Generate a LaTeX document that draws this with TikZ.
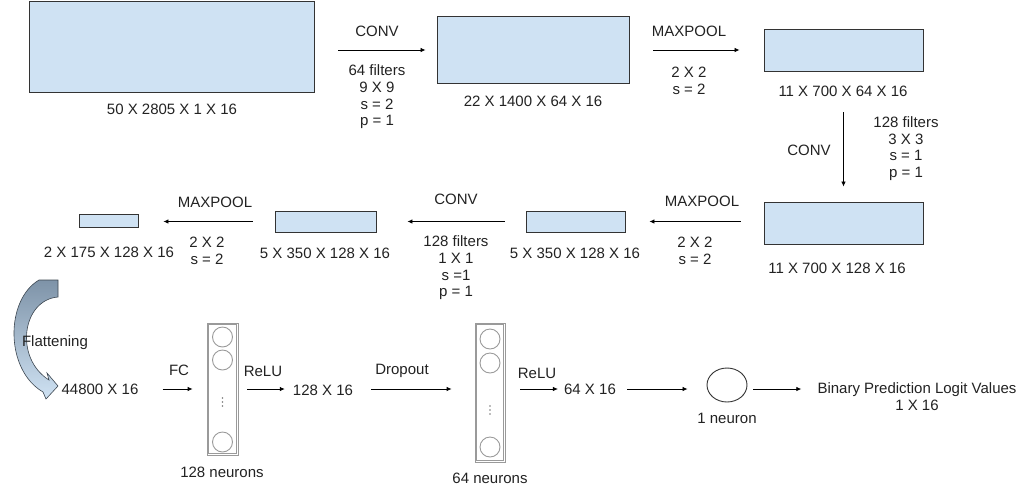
\documentclass[tikz,border=0pt]{standalone}
\usepackage{fontspec}
\setmainfont{Liberation Sans}
\usetikzlibrary{arrows.meta,shapes.geometric,calc}
\definecolor{boxfill}{HTML}{CFE2F3}
\definecolor{boxline}{HTML}{333333}
\definecolor{txt}{HTML}{222222}
\definecolor{neur}{HTML}{9A9A9A}
\definecolor{flattop}{HTML}{7E93A8}
\definecolor{flatline}{HTML}{3C4650}
\begin{document}
\begin{tikzpicture}[x=1pt,y=-1pt,
 blk/.style={draw=boxline, fill=boxfill, line width=0.9pt, inner sep=0pt, rectangle},
 lbl/.style={inner sep=0pt, text=txt, font=\fontsize{15}{16.7}\selectfont, align=center},
 arr/.style={-{Latex[length=5pt,width=4.5pt]}, line width=0.8pt, draw=black},
 ncol/.style={draw=neur, line width=0.8pt, inner sep=0pt, rectangle},
 nin/.style={draw=neur, line width=0.7pt},
 neu/.style={draw=neur, line width=0.9pt},
 dotn/.style={fill=neur!80!black, circle, inner sep=0pt, minimum size=1.8pt},
]
\useasboundingbox (0,0) rectangle (1025,491);
\coordinate (rowy) at (0,389);

% ---- feature-map boxes
\node[blk, minimum width=285pt, minimum height=91pt] (b1) at (171.5,46.5) {};
\node[blk, minimum width=192pt, minimum height=67pt] (b2) at (533,50) {};
\node[blk, minimum width=159pt, minimum height=42pt] (b3) at (843.5,50) {};
\node[blk, minimum width=159pt, minimum height=42pt] (b4) at (843.5,223) {};
\node[blk, minimum width=99pt, minimum height=21pt] (b5) at (575.5,221.5) {};
\node[blk, minimum width=101pt, minimum height=21pt] (b6) at (325.5,221.5) {};
\node[blk, minimum width=59pt, minimum height=13pt] (b7) at (108.5,220.5) {};

% ---- box labels
\node[lbl] (l1) at (172,109) {50 X 2805 X 1 X 16};
\node[lbl] (l2) at (533,101) {22 X 1400 X 64 X 16};
\node[lbl] (l3) at (843,91) {11 X 700 X 64 X 16};
\node[lbl] (l4) at (837,268) {11 X 700 X 128 X 16};
\node[lbl] (l5) at (575,253) {5 X 350 X 128 X 16};
\node[lbl] (l6) at (325,253) {5 X 350 X 128 X 16};
\node[lbl] (l7) at (109,252) {2 X 175 X 128 X 16};

% ---- operation labels
\node[lbl] (o1) at (377,31) {CONV};
\node[lbl] (o1b) at (377,97) {64 filters\\9 X 9\\s = 2\\p = 1};
\node[lbl] (o2) at (689,31) {MAXPOOL};
\node[lbl] (o2b) at (689,80.5) {2 X 2\\s = 2};
\node[lbl] (o3) at (809,150) {CONV};
\node[lbl] (o3b) at (906,148.5) {128 filters\\3 X 3\\s = 1\\p = 1};
\node[lbl] (o4) at (702,201) {MAXPOOL};
\node[lbl] (o4b) at (695,250.5) {2 X 2\\s = 2};
\node[lbl] (o5) at (456,199) {CONV};
\node[lbl] (o5b) at (456,268) {128 filters\\1 X 1\\s =1\\p = 1};
\node[lbl] (o6) at (215,202) {MAXPOOL};
\node[lbl] (o6b) at (207,251) {2 X 2\\s = 2};

% ---- arrows between boxes
\draw[arr] ([xshift=24pt]b1.east |- b2.west) -- ([xshift=-11pt]b2.west);
\draw[arr] ([xshift=24pt]b2.east) -- ([xshift=-24pt]b3.west);
\draw[arr] ([yshift=-41pt]b3.south) -- ([yshift=15pt]b4.north);
\draw[arr] ([xshift=-23pt]b4.west |- b5.east) -- ([xshift=24pt]b5.east);
\draw[arr] ([xshift=-21pt]b5.west) -- ([xshift=31pt]b6.east);
\draw[arr] ([xshift=-22pt]b6.west) -- ([xshift=25pt]b7.east |- b6.west);

% ---- flattening block arrow
\path[draw=flatline, line width=0.6pt, top color=flattop, bottom color=boxfill, shading angle=0]
 (39,280) -- (58,280) -- (58,297)
 .. controls (22,300) and (14,358) .. (49,380)
 -- (47,373) -- (58,386) -- (46,399) -- (43,392)
 .. controls (5,370) and (5,300) .. (39,280) -- cycle;
\node[lbl] (fl) at (55,343) {Flattening};

% ---- fully connected part
\node[lbl] (t448) at (100,389) {44800 X 16};
\node[ncol, minimum width=31pt, minimum height=132pt] (c1) at (222.5,389) {};
\draw[nin] ([shift={(2pt,2pt)}]c1.south west) rectangle ([shift={(-2pt,-2pt)}]c1.north east);
\draw[neu] (222.5,337) circle (10pt);
\draw[neu] (222.5,360) circle (10pt);
\draw[neu] (222.5,442) circle (10pt);
\node[dotn] at (222.5,398) {};
\node[dotn] at (222.5,402) {};
\node[dotn] at (222.5,406) {};
\node[lbl] (n1) at (222,472) {128 neurons};

\node[lbl] (t128) at (323,390) {128 X 16};

\node[ncol, minimum width=30pt, minimum height=139pt] (c2) at (490,392.5) {};
\draw[nin] ([shift={(2pt,2pt)}]c2.south west) rectangle ([shift={(-2pt,-2pt)}]c2.north east);
\draw[neu] (490,339) circle (10pt);
\draw[neu] (490,363) circle (10pt);
\draw[neu] (490,447) circle (10pt);
\node[dotn] at (490,406) {};
\node[dotn] at (490,410) {};
\node[dotn] at (490,414) {};
\node[lbl] (n2) at (490,478) {64 neurons};

\node[lbl] (t64) at (590,389) {64 X 16};
\node[ellipse, draw=boxline, line width=0.9pt, minimum width=40pt, minimum height=34pt, inner sep=0pt] (out) at (727,385) {};
\node[lbl] (n3) at (727,418) {1 neuron};
\node[lbl] (res) at (917,396.5) {Binary Prediction Logit Values\\1 X 16};

\node[lbl] (fc) at (179,370) {FC};
\node[lbl] (r1) at (263,371) {ReLU};
\node[lbl] (dr) at (402,371) {Dropout};
\node[lbl] (r2) at (537,373) {ReLU};

\draw[arr] ([xshift=24pt]t448.east |- rowy) -- ([xshift=-14pt]c1.west |- rowy);
\draw[arr] ([xshift=9pt]c1.east |- rowy) -- ([xshift=-8pt]t128.west |- rowy);
\draw[arr] ([xshift=18pt]t128.east |- rowy) -- ([xshift=-23pt]c2.west |- rowy);
\draw[arr] ([xshift=15pt]c2.east |- rowy) -- ([xshift=-6pt]t64.west |- rowy);
\draw[arr] ([xshift=11pt]t64.east |- rowy) -- ([xshift=-19pt]out.west |- rowy);
\draw[arr] ([xshift=6pt]out.east |- rowy) -- ([xshift=-16pt]res.west |- rowy);
\end{tikzpicture}
\end{document}
